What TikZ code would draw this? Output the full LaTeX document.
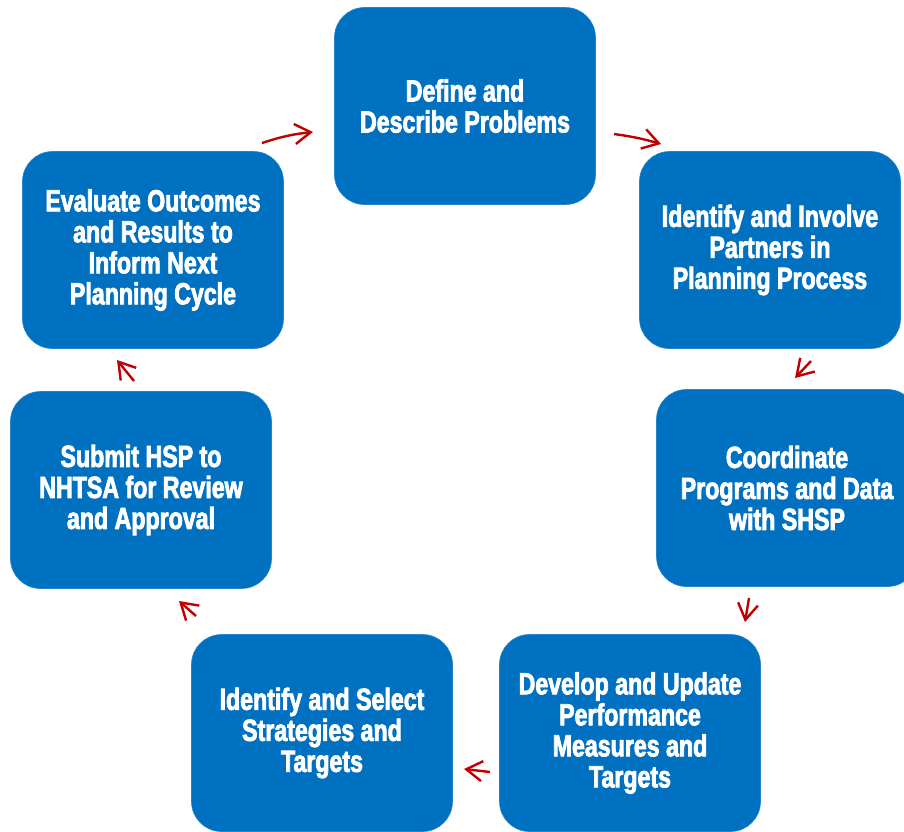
\documentclass[tikz,border=0pt]{standalone}
\usepackage{fontspec}
\setmainfont{Liberation Sans}[FakeStretch=0.78]
\newfontfamily\boxfont{Liberation Sans}[FakeStretch=0.76,BoldFont={* Bold},BoldFeatures={FakeBold=2.6}]
\usetikzlibrary{arrows.meta}
\definecolor{boxblue}{HTML}{0070C0}
\definecolor{arrred}{HTML}{C00000}
\tikzset{
  stepbox/.style={fill=boxblue, draw=boxblue!85!white, line width=0.6pt, rounded corners=30pt,
    minimum width=261pt, minimum height=197pt, inner sep=0pt,
    text=white, align=center, font=\boxfont\bfseries\fontsize{30.5}{31}\selectfont},
  cyc/.style={draw=arrred, line width=2.4pt, -{Straight Barb[length=16pt,width=20pt,line width=2.4pt]}}
}
\begin{document}
\begin{tikzpicture}[x=1pt,y=-1pt]
\useasboundingbox (0,0) rectangle (904,831);
\clip (0,0) rectangle (904,831);
\node[stepbox] (n1) at (465,106) {Define and\\Describe Problems};
\node[stepbox] (n2) at (770,250) {Identify and Involve\\Partners in\\Planning Process};
\node[stepbox] (n3) at (787,488) {Coordinate\\Programs and Data\\with SHSP};
\node[stepbox] (n4) at (630,733) {Develop and Update\\Performance\\Measures and\\Targets};
\node[stepbox] (n5) at (322,733) {Identify and Select\\Strategies and\\Targets};
\node[stepbox] (n6) at (141,490) {Submit HSP to\\NHTSA for Review\\and Approval};
\node[stepbox] (n7) at (153,250) {Evaluate Outcomes\\and Results to\\Inform Next\\Planning Cycle};
\coordinate (a1s) at (262,143); \coordinate (a1e) at (313,132);
\coordinate (a2s) at (614,134); \coordinate (a2e) at (661,144);
\coordinate (a3s) at (811,361); \coordinate (a3e) at (795,378);
\coordinate (a4s) at (749,598); \coordinate (a4e) at (745,622);
\coordinate (a5s) at (490,772); \coordinate (a5e) at (464,769);
\coordinate (a6s) at (196,616); \coordinate (a6e) at (179,601);
\coordinate (a7s) at (134,381); \coordinate (a7e) at (117,360);
\draw[cyc] (a1s) to[bend left=6] (a1e);
\draw[cyc] (a2s) to[bend left=4] (a2e);
\draw[cyc] (a3s) -- (a3e);
\draw[cyc] (a4s) -- (a4e);
\draw[cyc] (a5s) -- (a5e);
\draw[cyc] (a6s) -- (a6e);
\draw[cyc] (a7s) -- (a7e);
\end{tikzpicture}
\end{document}
